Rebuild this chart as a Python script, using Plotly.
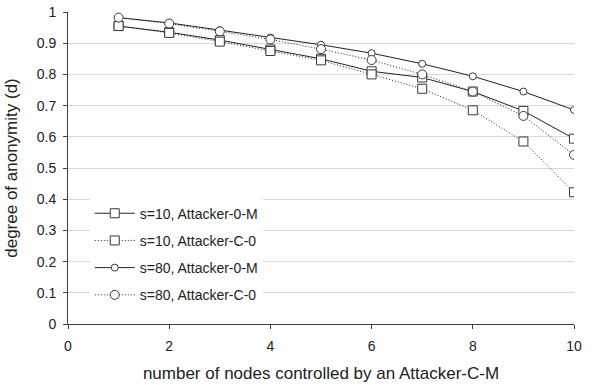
import plotly.graph_objects as go

nodes = [1, 2, 3, 4, 5, 6, 7, 8, 9, 10]
s10_0M = [0.955, 0.935, 0.91, 0.88, 0.85, 0.81, 0.79, 0.745, 0.683, 0.594]
s10_C0 = [0.955, 0.933, 0.905, 0.875, 0.845, 0.80, 0.754, 0.685, 0.585, 0.422]
s80_0M = [0.982, 0.965, 0.942, 0.918, 0.895, 0.868, 0.834, 0.794, 0.745, 0.686]
s80_C0 = [0.982, 0.963, 0.938, 0.912, 0.881, 0.846, 0.80, 0.745, 0.667, 0.542]

names = ["s=10, Attacker-0-M", "s=10, Attacker-C-0", "s=80, Attacker-0-M", "s=80, Attacker-C-0"]
series = [s10_0M, s10_C0, s80_0M, s80_C0]
dashes = ["solid", "1px,2px", "solid", "1px,2px"]
symbols = ["square", "square", "circle", "circle"]
sizes = [9, 9, 7, 9]

LINE = "#222222"
fig = go.Figure()
for nm, ys, d, sym, sz in zip(names, series, dashes, symbols, sizes):
    fig.add_trace(go.Scatter(
        x=nodes, y=ys, name=nm, mode="lines+markers", legendgroup=nm,
        line=dict(color=LINE, width=1, dash=d),
        marker=dict(symbol=sym, size=sz, color="white", line=dict(color="#3a3a3a", width=1)),
    ))

font = "Liberation Sans, Arial, sans-serif"
fig.update_layout(
    width=600, height=385,
    margin=dict(l=68, r=26, t=12, b=61),
    paper_bgcolor="white", plot_bgcolor="white",
    font=dict(family=font, size=14, color="#222222"),
    legend=dict(x=0.043, y=0.405, xanchor="left", yanchor="top", bgcolor="white",
                itemwidth=40,
                tracegroupgap=6, traceorder="grouped", font=dict(size=14, color="#222222")),
    showlegend=True,
)
fig.update_xaxes(range=[0, 10], dtick=2, tick0=0, showgrid=False, zeroline=False,
                 showline=True, linecolor="#404040", linewidth=1, automargin=False,
                 ticks="outside", ticklen=4, tickcolor="#404040", ticklabelstandoff=5,
                 title=dict(text="number of nodes controlled by an Attacker-C-M", standoff=14),
                 tickfont=dict(size=14))
fig.update_yaxes(range=[0, 1], dtick=0.1, tick0=0, showgrid=True, gridcolor="#d9d9d9",
                 zeroline=False, showline=True, linecolor="#404040", linewidth=1, automargin=False,
                 ticks="outside", ticklen=4, tickcolor="#404040", ticklabelstandoff=4,
                 ticklabeloverflow="allow",
                 title=dict(text="degree of anonymity (d)", standoff=14),
                 tickfont=dict(size=14))
fig.write_html("out.html", config={"displayModeBar": False},
               post_script="document.body.style.margin='0';document.body.style.overflow='hidden';")
